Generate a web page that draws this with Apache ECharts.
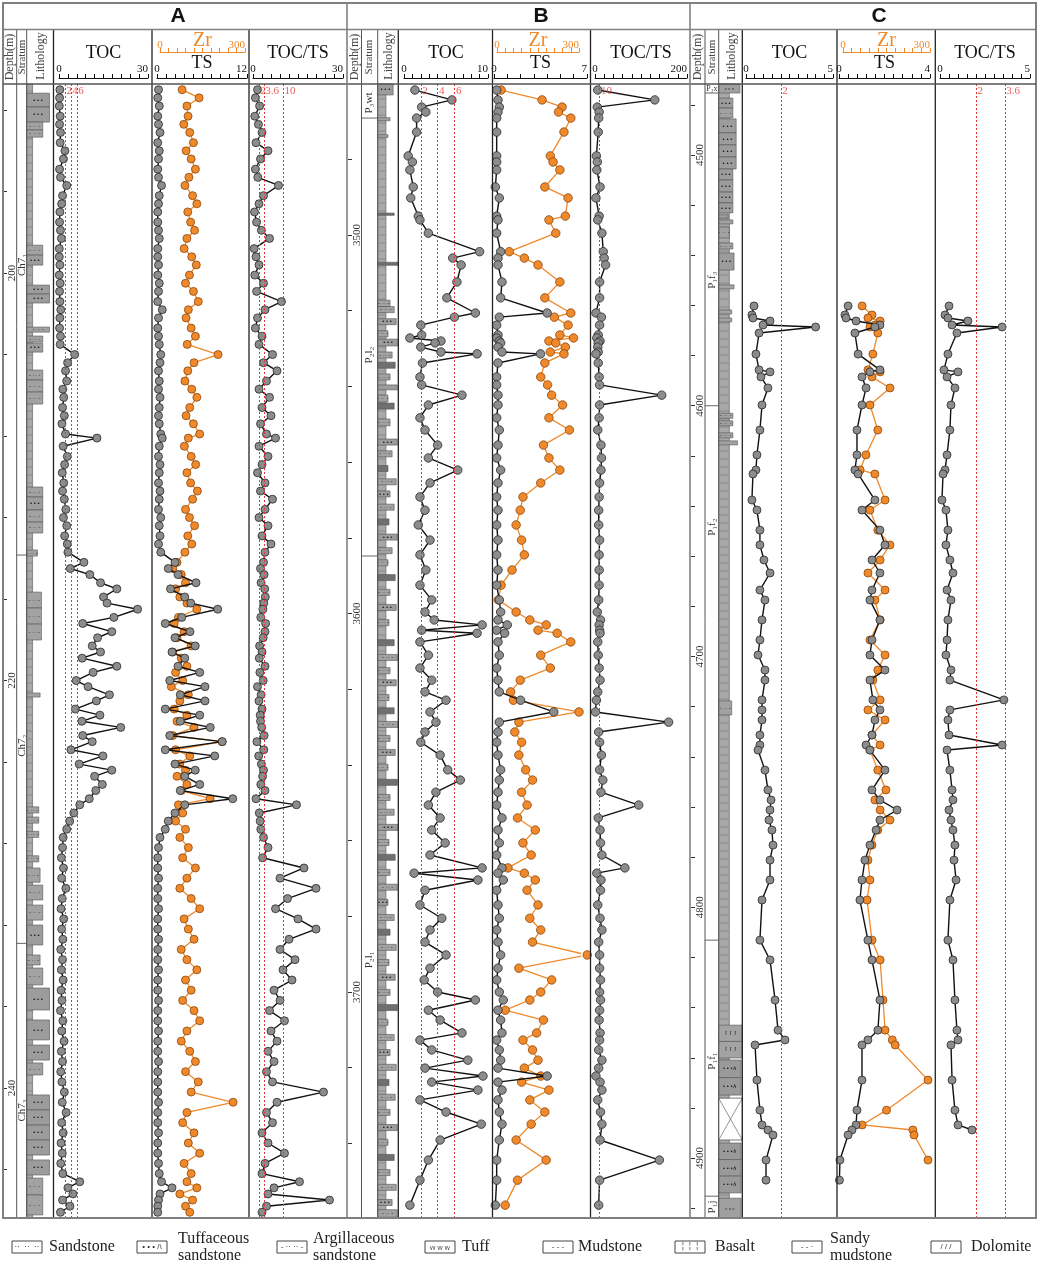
<!DOCTYPE html>
<html><head><meta charset="utf-8"><title>TOC TS Zr profiles</title>
<script src="https://cdn.jsdelivr.net/npm/echarts@6.0.0/dist/echarts.min.js"></script>
<style>html,body{margin:0;padding:0;background:#fff;}#chart{width:1038px;height:1264px;}</style>
</head><body><div id="chart"></div>
<script>
// ---------------- DATA ----------------
const A_range = [190.72, 246.38];
const A_depthTicks = [192,196,200,204,208,212,216,220,224,228,232,236,240,244];
const A_depthLabels = [200,220,240];
const A_tocAxis = [0,30], A_tsAxis = [0,12], A_zrAxis = [0,300], A_ttAxis = [0,30];
const A_tocRef = [2,4,6], A_ttRef = [2,3.6,10];
const A_depth = [191.0,191.4,191.8,192.3,192.7,193.1,193.6,194.0,194.4,194.9,195.3,195.7,196.2,196.6,197.0,197.5,197.9,198.3,198.8,199.2,
 199.6,200.1,200.5,200.9,201.4,201.8,202.2,202.7,203.1,203.5,204.0,204.4,204.8,205.3,205.7,206.1,206.6,207.0,207.4,207.9,
 208.1,208.5,209.0,209.4,209.8,210.3,210.7,211.1,211.6,212.0,212.4,212.9,213.3,213.7,
 214.2,214.5,214.8,215.2,215.5,215.9,216.2,216.5,216.9,217.2,217.6,217.9,218.3,218.6,218.9,219.3,219.6,220.0,220.3,220.7,
 221.0,221.4,221.7,222.0,222.3,222.7,223.0,223.4,223.7,224.1,224.4,224.7,225.1,225.4,225.8,226.1,226.5,226.9,227.3,227.7,
 228.2,228.7,229.2,229.7,230.2,230.7,231.2,231.7,232.2,232.7,233.2,233.7,234.2,234.7,235.2,235.7,236.2,236.7,237.2,237.7,
 238.2,238.7,239.2,239.7,240.2,240.7,241.2,241.7,242.2,242.7,243.2,243.7,244.2,244.6,244.9,245.2,245.5,245.8,246.1];
const A_toc = [0.3,0.2,0.1,0.4,0.2,0.5,0.4,2.0,1.5,0.2,0.5,2.6,1.2,0.9,0.3,0.2,0.5,0.8,0.1,0.1,
 0.3,0.1,0.4,0.2,0.3,0.6,0.3,0.2,0.5,0.4,5.3,2.9,2.2,2.6,1.3,1.6,1.2,1.8,1.0,2.2,
 12.8,1.4,2.8,1.9,1.1,1.6,1.2,1.8,2.3,1.5,2.6,1.9,2.8,3.0,
 8.4,3.8,10.4,14.0,19.5,15.0,16.2,26.5,18.5,8.0,17.8,13.0,11.2,14.0,7.8,19.5,11.5,5.8,9.8,17.0,
 12.6,5.5,13.8,7.7,20.8,8.0,11.2,4.0,14.8,6.8,17.8,12.0,14.6,12.4,10.2,7.0,5.0,3.6,2.6,1.4,
 1.2,0.8,1.5,0.9,2.3,1.1,0.7,1.6,0.9,1.3,0.6,1.2,0.8,1.4,0.7,1.0,0.5,1.3,0.9,1.7,
 0.8,1.2,0.6,1.0,1.8,1.1,2.4,0.9,1.4,0.7,1.1,0.6,1.3,7.0,3.0,4.7,1.2,3.7,0.5];
const A_ts = [0.2,0.1,0.3,0.1,0.2,0.4,0.1,0.3,0.2,0.1,0.2,0.6,0.3,0.2,0.1,0.1,0.2,0.3,0.1,0.1,
 0.2,0.1,0.3,0.2,0.1,0.7,0.2,0.1,0.2,0.3,0.5,0.4,0.2,0.3,0.2,0.4,0.3,0.2,0.3,0.5,
 0.7,0.3,0.2,0.4,0.3,0.2,0.4,0.3,0.2,0.5,0.3,0.4,0.2,0.5,
 2.4,1.5,2.8,5.2,1.8,3.7,4.5,8.1,3.3,1.1,4.4,2.4,5.1,2.0,3.7,2.8,5.7,1.7,6.4,3.1,
 6.4,1.1,5.7,3.1,7.1,1.7,8.7,1.1,7.7,2.4,5.1,3.7,5.7,3.1,10.1,3.7,2.4,1.5,1.1,0.4,
 0.2,0.1,0.1,0.2,0.1,0.1,0.2,0.1,0.1,0.2,0.1,0.1,0.2,0.1,0.1,0.2,0.1,0.1,0.2,0.1,
 0.1,0.2,0.1,0.1,0.1,0.2,0.1,0.1,0.2,0.1,0.1,0.2,0.3,0.6,2.0,0.4,0.2,0.1,0.1];
const A_zr = [78,138,95,99,84,105,118,92,110,125,102,88,115,130,98,108,122,95,85,112,
 128,104,90,118,135,100,92,110,125,96,205,120,98,88,112,130,105,92,118,140,
 100,86,110,126,95,108,132,115,90,104,122,98,112,88,
 60,45,75,90,55,70,95,130,65,50,85,60,110,45,75,95,55,80,40,100,
 70,50,95,60,120,45,219,55,105,70,90,60,95,75,177,65,80,55,90,70,
 100,80,125,95,70,110,140,85,100,120,75,95,130,90,110,80,120,140,95,75,
 105,125,90,135,110,258,95,80,120,100,140,85,110,95,130,70,115,90,105];
const A_tocts = [1.5,0.8,2.2,0.6,1.8,3.0,1.0,5.0,2.5,0.8,1.6,8.5,3.5,2.0,0.5,1.2,2.8,5.5,0.4,1.0,
 2.0,0.6,3.5,1.2,9.5,4.0,1.5,0.8,3.0,2.0,6.5,3.5,8.0,4.5,2.0,5.5,3.0,6.0,2.5,4.5,
 7.5,2.0,5.0,3.0,1.5,4.0,2.5,6.5,4.0,2.0,5.0,3.0,6.0,4.0,
 3.5,2.5,3.7,2.7,3.9,4.1,3.6,3.3,2.6,4.2,4.0,3.4,2.2,3.0,2.1,4.0,2.3,3.4,1.5,2.7,
 2.0,3.0,2.4,2.5,2.9,3.7,1.3,3.6,1.9,2.8,3.5,3.2,2.6,4.0,1.0,14.5,2.1,2.4,2.6,3.5,
 5.0,3.2,17.0,9.0,21.0,11.5,7.5,15.0,21.0,12.0,9.0,14.0,10.0,13.0,7.0,9.0,5.5,10.5,6.0,8.0,
 5.0,7.0,4.5,6.5,23.5,8.0,4.5,6.5,3.0,5.0,10.5,4.0,3.0,15.5,7.0,5.0,25.5,4.5,3.0];
// lithology beds: [top, bottom, width fraction, type]  (7 = continuous mudstone strip)
const A_litho = [[190.72,246.38,0.22,7],
 [191.17,191.85,0.85,1],[191.85,192.59,0.85,1],[192.59,192.98,0.6,2],[192.98,193.33,0.6,2],
 [198.63,199.12,0.6,2],[199.12,199.61,0.6,1],[200.59,201.03,0.85,1],[201.03,201.47,0.85,1],
 [202.65,202.90,0.85,2],[203.09,203.39,0.6,2],[203.44,203.88,0.6,1],[204.76,205.25,0.6,2],
 [205.25,205.84,0.6,2],[205.84,206.43,0.6,2],
 [210.50,210.99,0.6,2],[210.99,211.63,0.6,1],[211.63,212.22,0.6,2],[212.22,212.76,0.6,2],
 [213.59,213.89,0.4,2],[215.66,216.44,0.55,2],[216.44,217.23,0.55,2],[217.23,218.01,0.55,2],
 [220.61,220.81,0.5,2],
 [226.2,226.5,0.45,2],[226.7,227.0,0.45,2],[227.4,227.7,0.45,2],[228.6,228.9,0.45,2],[229.2,229.9,0.5,2],
 [230.04,230.77,0.6,2],[231.02,231.76,0.6,2],[232.00,232.98,0.6,1],[233.47,233.96,0.5,2],[234.11,234.94,0.6,2],
 [235.09,236.17,0.85,1],[236.66,237.64,0.85,1],[237.89,238.63,0.85,1],[238.77,239.36,0.6,2],
 [240.34,241.08,0.85,1],[241.08,241.82,0.85,1],[241.82,242.55,0.85,1],[242.55,243.29,0.85,1],
 [243.53,244.27,0.85,1],[244.42,245.25,0.6,2],[245.25,246.23,0.6,2]];
const A_strata = [[190.72,213.84,199.6],[213.84,232.9,223.2],[232.9,246.38,241.1]];
const A_strataNames = ['Ch7₁','Ch7₂','Ch7₃'];

const B_range = [3460.1, 3759.7];
const B_depthTicks = [3480,3500,3520,3540,3560,3580,3600,3620,3640,3660,3680,3700,3720,3740];
const B_depthLabels = [3500,3600,3700];
const B_tocAxis = [0,10], B_tsAxis = [0,7], B_zrAxis = [0,300], B_ttAxis = [0,200];
const B_tocRef = [2,4,6], B_ttRef = [10];
const B_depth = [3461.7,3464.3,3466.2,3467.5,3469.1,3472.8,3479.1,3480.7,3482.8,3487.3,
 3490.2,3495.0,3496.0,3499.5,3504.4,3506.1,3507.9,3512.4,3516.6,3520.6,
 3521.7,3523.8,3526.4,3527.2,3528.0,3528.5,3529.6,3530.9,3531.4,3533.8,
 3537.5,3539.6,3542.3,3544.9,3548.3,3551.5,3555.5,3558.9,3562.1,3565.5,
 3569.2,3572.7,3576.6,3580.6,3584.5,3588.5,3592.5,3596.4,3599.6,3601.7,
 3603.0,3604.4,3605.2,3607.5,3611.0,3614.4,3617.6,3620.7,3622.9,3626.0,
 3628.7,3631.3,3634.0,3637.4,3641.3,3644.0,3647.2,3650.6,3654.0,3657.2,
 3660.6,3663.8,3667.2,3668.6,3670.4,3673.1,3677.0,3680.5,3683.6,3686.8,
 3690.2,3693.7,3696.8,3700.0,3702.1,3704.8,3707.4,3710.8,3712.7,3715.3,
 3718.0,3720.1,3722.2,3723.8,3725.9,3728.5,3731.7,3734.9,3739.1,3744.4,
 3749.7,3756.3];
const B_toc = [1.3,5.7,2.1,2.6,1.5,1.5,0.5,1.0,0.7,1.1, 0.8,1.7,1.9,2.9,9.0,5.8,6.8,6.3,5.1,8.5,
 6.0,2.0,2.1,0.7,4.4,3.7,2.0,4.4,8.7,2.2, 1.9,2.1,6.9,2.9,1.9,2.5,4.0,2.9,6.4,3.1,
 1.9,2.5,1.7,3.1,1.9,2.6,1.9,3.3,2.5,3.6, 9.3,2.1,8.7,1.9,2.9,1.9,3.3,2.5,5.0,3.1,
 3.8,2.5,2.0,4.3,5.2,6.7,3.8,2.9,4.3,3.3, 4.9,3.1,9.3,1.2,8.8,2.5,1.9,4.5,3.1,2.5,
 5.0,3.1,2.4,4.0,8.5,2.9,4.3,6.9,1.9,3.3, 7.6,2.5,9.4,3.3,8.8,1.9,5.0,9.2,4.3,2.9, 1.9,0.7];
const B_ts = [0.2,0.3,0.4,0.3,0.2,0.2,0.2,0.2,0.2,0.1, 0.4,0.2,0.3,0.2,0.5,0.3,0.3,0.6,0.5,4.0,
 0.4,0.2,0.3,0.2,0.4,0.5,0.3,0.6,3.5,0.3, 0.2,0.2,0.3,0.3,0.2,0.4,0.3,0.2,0.5,0.3,
 0.2,0.3,0.2,0.3,0.2,0.3,0.2,0.4,0.5,0.3, 1.0,0.2,0.8,0.3,0.4,0.2,0.3,0.4,2.0,4.5,
 0.4,0.3,0.2,0.3,0.5,0.4,0.3,0.2,0.6,0.3, 0.4,0.2,0.6,0.3,0.7,0.2,0.3,0.4,0.2,0.3,
 0.5,0.3,0.2,0.4,0.7,0.3,0.5,0.6,0.2,0.4, 0.5,0.3,4.0,0.3,0.6,0.3,0.4,0.6,0.4,0.2, 0.2,0.1];
const B_zr = [15,165,238,225,270,245,195,205,230,175, 260,250,190,215,45,100,150,230,175,270,
 210,260,230,280,190,215,250,195,245,175, 160,185,200,240,190,265,170,190,230,160,
 95,85,70,90,100,55,15,5,70,120, 180,150,220,270,160,195,85,50,60,300,
 80,65,90,80,105,130,90,110,75,140, 95,125,40,100,140,110,150,120,160,130,
 330,80,200,160,120,30,170,145,95,130, 150,100,160,90,190,120,175,125,70,180, 75,30];
const B_tocts = [6,130,5,9,8,7,3,5,4,11, 2,9,6,15,18,20,23,10,10,2,
 14,10,7,4,11,7,6,7,2,7, 9,10,145,10,9,6,13,14,13,10,
 9,8,8,10,9,9,9,8,5,12, 9,10,11,6,7,9,11,6,3,1,
 160,8,10,14,10,17,13,95,7,11, 12,15,65,4,13,12,6,11,15,8,
 10,10,12,10,12,10,9,11,10,8, 15,8,2,11,15,6,12,15,11,140, 10,8];
const B_litho = [[3460.1,3759.7,0.4,7],
 [3460.1,3463.0,0.75,1],[3469.0,3469.8,0.6,2],[3473.5,3474.2,0.5,2],[3494.2,3494.8,0.8,0],[3507.2,3508.0,1.0,0],
 [3517.2,3518.9,0.6,2],[3518.9,3520.5,0.8,2],[3522.1,3523.7,0.9,1],[3525.3,3526.9,0.5,2],[3527.5,3529.3,1.0,1],
 [3530.9,3532.5,0.7,2],[3533.6,3535.2,0.85,0],[3536.7,3538.3,0.6,2],[3539.6,3540.9,0.95,1],[3542.3,3544.1,0.5,2],
 [3544.4,3546.0,0.8,0],[3548.6,3550.4,0.6,2],[3553.9,3555.5,0.95,1],[3557.0,3558.6,0.7,2],[3560.9,3562.5,0.5,0],
 [3564.4,3566.0,0.9,2],[3567.6,3569.2,0.6,1],[3571.1,3572.7,0.8,2],[3575.0,3576.6,0.55,0],[3579.0,3580.6,0.95,1],
 [3582.6,3584.2,0.7,2],[3585.8,3587.4,0.5,2],[3589.7,3591.3,0.85,0],[3593.6,3595.2,0.6,2],[3597.6,3599.2,0.9,1],
 [3601.6,3603.2,0.55,2],[3606.9,3608.5,0.8,0],[3610.8,3612.4,0.95,2],[3614.3,3615.9,0.6,2],[3617.5,3619.1,0.9,1],
 [3621.4,3623.0,0.55,2],[3624.9,3626.5,0.8,0],[3628.5,3630.1,1.0,2],[3632.2,3633.8,0.6,2],[3635.9,3637.5,0.85,1],
 [3639.8,3641.4,0.5,2],[3643.8,3645.4,0.95,0],[3647.8,3649.4,0.6,2],[3651.7,3653.3,0.8,2],[3655.7,3657.3,1.0,1],
 [3659.7,3661.3,0.55,2],[3663.6,3665.2,0.85,0],[3667.6,3669.2,0.6,2],[3671.5,3673.1,0.95,2],[3675.5,3677.1,0.5,1],
 [3679.5,3681.1,0.8,2],[3683.4,3685.0,0.6,0],[3687.4,3689.0,0.9,2],[3691.4,3693.0,0.55,2],[3695.3,3696.9,0.85,1],
 [3699.3,3700.9,0.6,2],[3703.3,3704.9,0.95,0],[3707.2,3708.8,0.5,2],[3711.2,3712.8,0.8,2],[3715.2,3716.8,0.6,1],
 [3719.1,3720.7,0.9,2],[3723.1,3724.7,0.55,0],[3727.0,3728.6,0.85,2],[3731.0,3732.6,0.6,2],[3735.0,3736.6,0.95,1],
 [3738.9,3740.5,0.5,2],[3742.9,3744.5,0.8,0],[3746.9,3748.5,0.6,2],[3750.8,3752.4,0.9,2],[3754.8,3756.4,0.7,1],
 [3757.5,3759.5,0.95,2]];
const B_strata = [[3460.1,3469.1,3465.1],[3469.1,3584.8,3531.7],[3584.8,3759.7,3691.5]];
const B_strataNames = ['P₃wt','P₂l₂','P₂l₁'];

const C_range = [4471.7, 4923.9];
const C_depthTicks = [4480,4500,4520,4540,4560,4580,4600,4620,4640,4660,4680,4700,4720,4740,4760,4780,4800,4820,4840,4860,4880,4900,4920];
const C_depthLabels = [4500,4600,4700,4800,4900];
const C_tocAxis = [0,5], C_tsAxis = [0,4], C_zrAxis = [0,300], C_ttAxis = [0,5];
const C_tocRef = [2], C_ttRef = [2,3.6];
const C_depth = [4560.2,4563.8,4565.0,4566.2,4567.8,4568.6,4571.0,4579.4,4585.7,4586.5,
 4588.5,4592.9,4599.7,4609.7,4619.6,4625.6,4627.2,4637.6,4641.6,4649.6,
 4655.5,4661.5,4666.7,4673.5,4677.5,4685.4,4693.4,4699.4,4705.4,4709.4,
 4717.3,4721.3,4725.3,4731.3,4735.3,4737.3,4745.3,4753.2,4757.2,4761.2,
 4765.2,4769.2,4775.2,4781.2,4789.1,4797.1,4813.1,4821.0,4837.0,4849.0,
 4852.9,4854.9,4868.9,4880.9,4886.8,4888.8,4890.8,4900.8,4908.8];
const C_toc = [0.46,0.34,0.40,1.38,0.98,4.0,0.75,0.57,0.75,1.38, 0.86,1.26,0.92,0.80,0.63,0.57,0.40,0.34,0.63,0.80,
 0.80,1.03,1.38,0.80,1.09,0.92,0.80,0.69,1.09,1.09, 0.92,0.92,0.92,0.80,0.80,0.69,1.09,1.26,1.44,1.38,
 1.32,1.49,1.55,1.38,1.38,0.92,0.80,1.38,1.67,1.84, 2.24,0.52,0.63,0.80,0.92,1.26,1.55,1.15,1.15];
const C_ts = [0.40,0.26,0.31,0.75,1.80,1.58,0.70,0.84,1.80,1.36, 1.01,1.19,1.01,0.79,0.79,0.70,0.84,1.58,1.01,1.80,
 2.02,1.45,1.80,1.45,1.36,1.80,1.45,1.36,2.02,1.36, 1.49,1.80,1.58,1.45,1.19,1.36,2.02,1.45,1.80,2.55,
 1.80,1.63,1.36,1.14,1.01,0.92,1.27,1.45,1.80,1.71, 1.27,1.01,1.01,0.79,0.75,0.57,0.40,0.04,0.02];
const C_zr = [66,100,86,128,110,93,120,103,86,128, 100,162,93,120,79,59,110,145,93,120,
 162,128,86,145,110,128,93,145,120,103, 128,86,145,100,128,93,120,148,110,128,
 162,120,100,86,93,83,100,128,138,145, 170,180,293,150,66,241,245,293,null];
const C_tocts = [0.5,0.28,0.44,1.55,0.67,3.45,0.94,0.44,0.22,1.0, 0.39,0.83,0.61,0.55,0.39,0.28,0.17,0.11,0.33,0.44,
 0.33,0.55,0.72,0.39,0.61,0.44,0.39,0.33,0.61,0.55, 3.55,0.55,0.44,0.50,3.45,0.39,0.55,0.67,0.72,0.50,
 0.61,0.72,0.83,0.78,0.89,0.55,0.44,0.72,0.83,0.94, 1.0,0.61,0.67,0.83,1.0,1.78,null,null,null];
const C_litho = [[4471.7,4923.9,0.45,7],
 [4471.7,4475.3,0.9,5],
 [4477.3,4481.3,0.6,1],[4481.3,4485.2,0.6,2],[4485.6,4491.2,0.74,1],[4491.2,4496.0,0.74,1],[4496.0,4500.8,0.74,1],[4500.8,4505.6,0.74,1],
 [4505.6,4510.0,0.6,1],[4510.0,4514.8,0.6,1],[4514.8,4519.1,0.6,1],[4519.1,4523.1,0.6,1],
 [4523.9,4525.1,0.4,2],[4525.9,4527.5,0.6,2],[4528.7,4533.1,0.45,2],[4535.1,4537.5,0.6,2],
 [4539.1,4545.9,0.65,1],[4551.8,4553.4,0.65,2],[4561.8,4563.4,0.55,2],[4565.0,4566.6,0.55,2],
 [4603.0,4605.0,0.6,2],[4606.0,4608.0,0.6,2],[4610.8,4612.8,0.6,2],[4614.0,4615.6,0.8,2],
 [4717.7,4723.3,0.55,2],
 [4847.0,4853.5,1.0,4],[4853.5,4860.1,1.0,4],[4860.9,4867.9,0.95,3],[4867.9,4874.9,0.95,3],[4876.1,4892.8,1.0,6],
 [4894.0,4900.6,0.95,3],[4900.6,4907.2,0.95,3],[4907.2,4913.9,0.95,3],[4916.0,4923.9,0.95,5]];
const C_strata = [[4471.7,4475.3,4473.5],[4475.3,4600.0,4549.9],[4600.0,4813.1,4648.4],[4813.1,4915.2,4861.3],[4915.2,4923.9,4919.5]];
const C_strataNames = ['P₂x','P₁f₃','P₁f₂','P₁f₁','P₁j'];

const LEGEND_NAMES = ['Sandstone','Tuffaceous\nsandstone','Argillaceous\nsandstone','Tuff','Mudstone','Basalt','Sandy\nmudstone','Dolomite'];
const LEGEND_MARKS = ['··  ··  ··','• • • /\\','- ·· ·· -','ᵥᵥ ᵥᵥ ᵥᵥ','- - -','╎ ╎ ╎','- - ·','/ / /'];

// ---------------- LAYOUT / STYLE ----------------
const FONT = '"Liberation Serif","Times New Roman","DejaVu Serif",serif';
const SANS = '"Liberation Sans",Arial,"DejaVu Sans",sans-serif';
const TOP = 84, BOTTOM = 1218, RED = '#e8362f', ORANGE = '#f0892a';

const PANELS = [
 {title:'A', tx:178, depth:A_depth, toc:A_toc, ts:A_ts, zr:A_zr, tt:A_tocts, range:A_range, dTicks:A_depthTicks, dLabels:A_depthLabels,
  tocAx:A_tocAxis, tsAx:A_tsAxis, zrAx:A_zrAxis, ttAx:A_ttAxis, ivl:{toc:3, ts:1.2, zr:30, tt:3},
  tocRef:A_tocRef, ttRef:A_ttRef, litho:A_litho, strata:A_strata, strataNames:A_strataNames,
  col:{depth:[3,16.7], strat:[16.7,26.7], litho:[26.7,53.5], toc:[59,148], ts:[157,247], zr:[160,245], tt:[253,343]},
  seps:[16.7,26.7,53.5,152,249], sym:8},
 {title:'B', tx:541, depth:B_depth, toc:B_toc, ts:B_ts, zr:B_zr, tt:B_tocts, range:B_range, dTicks:B_depthTicks, dLabels:B_depthLabels,
  tocAx:B_tocAxis, tsAx:B_tsAxis, zrAx:B_zrAxis, ttAx:B_ttAxis, ivl:{toc:1, ts:1, zr:30, tt:20},
  tocRef:B_tocRef, ttRef:B_ttRef, litho:B_litho, strata:B_strata, strataNames:B_strataNames,
  col:{depth:[348,361.5], strat:[361.5,377.7], litho:[377.7,398.3], toc:[404,488], ts:[494,587], zr:[497,579], tt:[595,687]},
  seps:[361.5,377.7,398.3,492.5,590.5], sym:8.5},
 {title:'C', tx:879, depth:C_depth, toc:C_toc, ts:C_ts, zr:C_zr, tt:C_tocts, range:C_range, dTicks:C_depthTicks, dLabels:C_depthLabels,
  tocAx:C_tocAxis, tsAx:C_tsAxis, zrAx:C_zrAxis, ttAx:C_ttAxis, ivl:{toc:0.5, ts:0.4, zr:30, tt:0.5},
  tocRef:C_tocRef, ttRef:C_ttRef, litho:C_litho, strata:C_strata, strataNames:C_strataNames,
  col:{depth:[691,705], strat:[705,718.7], litho:[718.7,742.3], toc:[746,833], ts:[839,930], zr:[843,930], tt:[940,1030]},
  seps:[705,718.7,742.3,837,935.3], sym:8}
];

const grids = [], xAxis = [], yAxis = [], series = [], G = [];

function pairs(xs, ds){ const out=[]; xs.forEach((v,i)=>{ if(v!=null) out.push([v, ds[i]]); }); return out; }
function addGrid(c, range){
  const gi = grids.length;
  grids.push({left:c[0], top:TOP, width:c[1]-c[0], height:BOTTOM-TOP, containLabel:false, outerBoundsMode:'none'});
  yAxis.push({gridIndex:gi, type:'value', inverse:true, min:range[0], max:range[1], show:false});
  return gi;
}
function hiddenX(gi){ xAxis.push({gridIndex:gi, type:'value', min:0, max:1, show:false}); }
function plotX(gi, ticks, interval, name, nameGap, offset, color, nameSize, labelMargin){
  const mx = ticks[ticks.length-1];
  xAxis.push({gridIndex:gi, type:'value', position:'top', offset:offset, min:ticks[0], max:mx, interval:interval,
    name:name, nameLocation:'middle', nameGap:nameGap, nameMoveOverlap:false,
    nameTextStyle:{fontFamily:FONT, fontSize:nameSize, color:color},
    axisLine:{show:true, onZero:false, lineStyle:{color:color, width:1}},
    axisTick:{show:true, inside:false, length:4, lineStyle:{color:color, width:1}},
    axisLabel:{show:true, customValues:ticks, margin:labelMargin, fontFamily:FONT, fontSize:11, color:color,
      alignMaxLabel:'right', showMinLabel:true, showMaxLabel:true, formatter:(v)=>String(v)},
    splitLine:{show:false}});
}
function lineSeries(gi, xs, ds, orange, sym){
  return {type:'line', xAxisIndex:gi, yAxisIndex:gi, data:pairs(xs, ds), symbol:'circle', symbolSize:sym, clip:false,
    z: orange ? 2 : 3, animation:false, emphasis:{disabled:true},
    lineStyle:{color: orange ? ORANGE : '#111', width: orange ? 1.3 : 1.4},
    itemStyle:{color: orange ? ORANGE : '#8c8c8c', borderColor: orange ? '#8a4810' : '#2a2a2a', borderWidth:0.8}};
}
function refSeries(gi, refs, range){
  const ld = range[0] + (range[1]-range[0])*0.006;
  return {type:'scatter', xAxisIndex:gi, yAxisIndex:gi, data:refs.map(v=>[v, ld]), symbolSize:1, clip:false, z:5,
    itemStyle:{color:'rgba(0,0,0,0)'}, animation:false, silent:true,
    label:{show:true, position:'right', distance:1, formatter:(q)=>String(q.value[0]), color:RED, fontFamily:FONT, fontSize:11},
    markLine:{silent:true, symbol:['none','none'], animation:false, label:{show:false},
      lineStyle:{color:RED, type:[2,2], width:1}, data:refs.map(v=>({xAxis:v}))}};
}
function lithoItem(params, api){
  const t = api.value(3);
  const a = api.coord([0, api.value(0)]), b = api.coord([api.value(2), api.value(1)]);
  const x = a[0], y = a[1], w = b[0]-a[0], h = Math.max(1, b[1]-a[1]);
  const ch = [];
  if (t === 7) {
    ch.push({type:'rect', shape:{x, y, width:w, height:h}, style:{fill:'#a8a8a8', stroke:'#6a6a6a', lineWidth:0.7}});
    for (let yy = y + 7; yy < y + h; yy += 8) ch.push({type:'line', shape:{x1:x, y1:yy, x2:x+w, y2:yy}, style:{stroke:'#7a7a7a', lineWidth:0.6}});
  } else if (t === 6) {
    ch.push({type:'rect', shape:{x, y, width:w, height:h}, style:{fill:'#fff', stroke:'#555', lineWidth:0.8}});
    ch.push({type:'line', shape:{x1:x, y1:y, x2:x+w, y2:y+h}, style:{stroke:'#666', lineWidth:0.7}});
    ch.push({type:'line', shape:{x1:x+w, y1:y, x2:x, y2:y+h}, style:{stroke:'#666', lineWidth:0.7}});
  } else {
    const fill = ['#707070','#9c9c9c','#a2a2a2','#9a9a9a','#a3a3a3','#a0a0a0'][t];
    ch.push({type:'rect', shape:{x, y, width:w, height:h}, style:{fill:fill, stroke:'#555', lineWidth:0.6}});
    const txt = ['','• • •','- ·· -','• • •∧','ſ  ſ  ſ','ᵥ ᵥ ᵥ'][t];
    if (txt && h >= 5 && w >= 8) ch.push({type:'text', x:x+w/2, y:y+h/2,
      style:{text:txt, fill:'#1a1a1a', fontSize:6, fontFamily:SANS, align:'center', verticalAlign:'middle'}});
  }
  return {type:'group', children:ch};
}
function strataItemFactory(names){
  return function(params, api){
    const i = params.dataIndex;
    const top = api.value(0), bot = api.value(1), lab = api.value(2);
    const pt = api.coord([0, top]), l = api.coord([0, bot]), r = api.coord([1, bot]), c = api.coord([0.5, lab]);
    const small = (l[1]-pt[1]) < 20;
    const ch = [{type:'text', x:c[0], y:c[1], rotation: small ? 0 : Math.PI/2,
      style:{text:names[i], fontFamily:FONT, fontSize: small ? 8 : 11, fill:'#333', align:'center', verticalAlign:'middle'}}];
    if (i < names.length-1) ch.push({type:'line', shape:{x1:l[0], y1:l[1], x2:r[0], y2:r[1]}, style:{stroke:'#666', lineWidth:1}});
    return {type:'group', children:ch};
  };
}
function L(x1,y1,x2,y2,stroke,lw){ G.push({type:'line', silent:true, z:100, shape:{x1,y1,x2,y2}, style:{stroke, lineWidth:lw}}); }
function T(x,y,text,style,rot){ G.push({type:'text', silent:true, z:100, x, y, rotation:rot||0,
  style:Object.assign({text, align:'center', verticalAlign:'middle', fontFamily:FONT, fontSize:12, fill:'#222'}, style||{})}); }

PANELS.forEach(p => {
  const c = p.col;
  // depth column
  let gi = addGrid(c.depth, p.range); hiddenX(gi);
  yAxis[gi] = {gridIndex:gi, type:'value', inverse:true, min:p.range[0], max:p.range[1], position:'left',
    axisLine:{show:false}, splitLine:{show:false},
    axisTick:{show:true, inside:true, length:4, customValues:p.dTicks, lineStyle:{color:'#333', width:1}},
    axisLabel:{show:true, inside:true, rotate:90, margin:4, customValues:p.dLabels, fontFamily:FONT, fontSize:11, color:'#333',
      formatter:(v)=>String(v)}};
  // stratum
  gi = addGrid(c.strat, p.range); hiddenX(gi);
  series.push({type:'custom', xAxisIndex:gi, yAxisIndex:gi, data:p.strata, renderItem:strataItemFactory(p.strataNames), animation:false, silent:true});
  // lithology
  gi = addGrid(c.litho, p.range); hiddenX(gi);
  series.push({type:'custom', xAxisIndex:gi, yAxisIndex:gi, data:p.litho, renderItem:lithoItem, animation:false, silent:true});
  // TOC
  gi = addGrid(c.toc, p.range);
  plotX(gi, p.tocAx, p.ivl.toc, 'TOC', 16, 6, '#111', 18, 3);
  series.push(refSeries(gi, p.tocRef, p.range));
  series.push(lineSeries(gi, p.toc, p.depth, false, p.sym));
  // TS
  gi = addGrid(c.ts, p.range);
  plotX(gi, p.tsAx, p.ivl.ts, 'TS', 6, 6, '#111', 18, 3);
  series.push(lineSeries(gi, p.ts, p.depth, false, p.sym));
  // Zr
  gi = addGrid(c.zr, p.range);
  plotX(gi, p.zrAx, p.ivl.zr, 'Zr', 1, 32, ORANGE, 20, 1);
  series.push(lineSeries(gi, p.zr, p.depth, true, p.sym));
  // TOC/TS
  gi = addGrid(c.tt, p.range);
  plotX(gi, p.ttAx, p.ivl.tt, 'TOC/TS', 16, 6, '#111', 18, 3);
  series.push(refSeries(gi, p.ttRef, p.range));
  series.push(lineSeries(gi, p.tt, p.depth, false, p.sym));

  // headers
  T(p.tx, 16.5, p.title, {fontFamily:SANS, fontWeight:'bold', fontSize:21, fill:'#111'});
  T((c.depth[0]+c.depth[1])/2, 57, 'Depth(m)', {fontSize:12, fill:'#444'}, Math.PI/2);
  T((c.strat[0]+c.strat[1])/2, 57, 'Stratum', {fontSize:11, fill:'#444'}, Math.PI/2);
  T((c.litho[0]+c.litho[1])/2 + 1, 56, 'Lithology', {fontSize:12, fill:'#444'}, Math.PI/2);
  p.seps.forEach((sx, k) => L(sx, 29.5, sx, BOTTOM, k < 2 ? '#555' : '#222', k < 2 ? 1 : 1.3));
});

// frame
G.push({type:'rect', silent:true, z:100, shape:{x:3, y:3, width:1033, height:1215}, style:{fill:null, stroke:'#808080', lineWidth:2}});
L(3, 29.5, 1036, 29.5, '#808080', 1.5);
L(3, 84, 1036, 84, '#555', 1.6);
L(347, 3, 347, BOTTOM, '#808080', 1.6);
L(690, 3, 690, BOTTOM, '#808080', 1.6);

// legend
const boxX = [12,137,277,425,543,675,792,931], textX = [49,178,313,462,578,715,830,971];
LEGEND_NAMES.forEach((n, i) => {
  G.push({type:'rect', silent:true, z:100, shape:{x:boxX[i], y:1241, width:30, height:12}, style:{fill:'#fff', stroke:'#444', lineWidth:1}});
  T(boxX[i]+15, 1247, LEGEND_MARKS[i], {fontSize:8, fill:'#333', fontFamily:SANS});
  T(textX[i], 1247, n, {fontSize:16, fill:'#222', align:'left', lineHeight:17});
});

const chart = echarts.init(document.getElementById('chart'), null, {renderer:'canvas'});
chart.setOption({
  backgroundColor:'#ffffff', animation:false,
  grid:grids, xAxis:xAxis, yAxis:yAxis, series:series,
  graphic:{elements:G}
});
</script></body></html>
